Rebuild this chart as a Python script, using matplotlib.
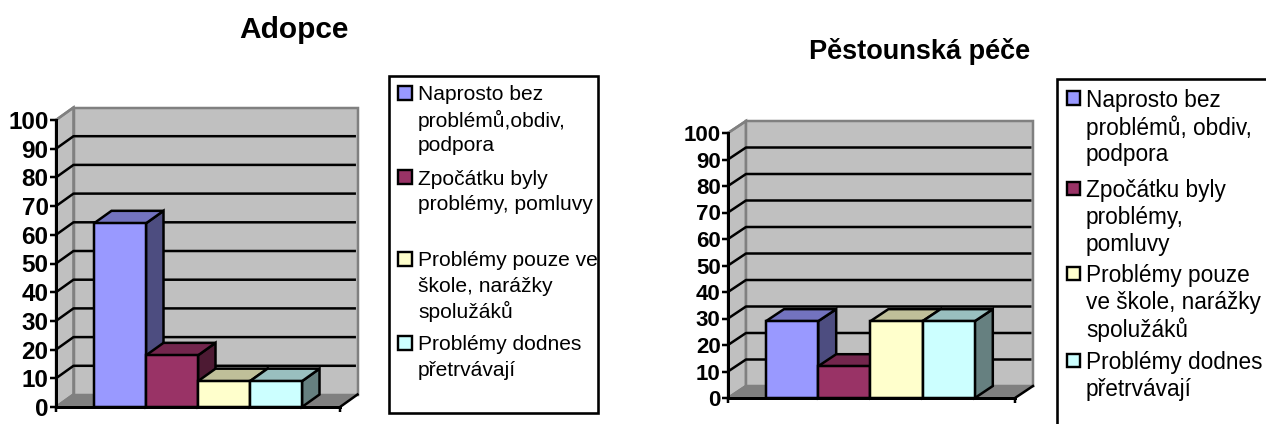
import matplotlib
matplotlib.use("Agg")
import matplotlib.pyplot as plt
from matplotlib.patches import Polygon, Rectangle

W, H = 1266, 424
plt.rcParams['font.family'] = ['Liberation Sans', 'DejaVu Sans']

# ---- data ----
adopce_values = [64, 18, 9, 9]
pestounska_values = [29, 12, 29, 29]
y_ticks = list(range(0, 101, 10))
title_left = "Adopce"
title_right = "Pěstounská péče"
legend_left = ["Naprosto bez\nproblémů,obdiv,\npodpora",
               "Zpočátku byly\nproblémy, pomluvy",
               "Problémy pouze ve\nškole, narážky\nspolužáků",
               "Problémy dodnes\npřetrvávají"]
legend_right = ["Naprosto bez\nproblémů, obdiv,\npodpora",
                "Zpočátku byly\nproblémy,\npomluvy",
                "Problémy pouze\nve škole, narážky\nspolužáků",
                "Problémy dodnes\npřetrvávají"]

front_colors = ["#9999ff", "#993366", "#ffffcc", "#ccffff"]
top_colors = ["#7373bf", "#73264d", "#bfbf99", "#99bfbf"]
side_colors = ["#4d4d80", "#4d1a33", "#808066", "#668080"]

fig = plt.figure(figsize=(W / 100, H / 100), dpi=100)
fig.patch.set_facecolor("white")
PX = 0.72  # points per pixel
LW = 2.5 * PX


def fx(x):
    return x / W


def fy(y):
    return 1 - y / H


def chart(values, left, right, y0, y100, bar_left, bar_w, dpx, dpy, tick_font):
    ax = fig.add_axes([fx(left), fy(y0), (right - left) / W, (y0 - y100) / H])
    ax.patch.set_visible(False)
    xmin = -0.5 - (bar_left - left) / bar_w
    xmax = xmin + (right - left) / bar_w
    ax.set_xlim(xmin, xmax)
    ax.set_ylim(0, 100)
    dx = dpx / bar_w
    dy = dpy / (y0 - y100) * 100

    # walls and floor
    ax.add_patch(Polygon([(xmin, 0), (xmin + dx, dy), (xmin + dx, 100 + dy), (xmin, 100)],
                         fc="#c0c0c0", ec="#808080", lw=2.5 * PX, clip_on=False, zorder=1))
    ax.add_patch(Rectangle((xmin + dx, dy), xmax - xmin, 100, fc="#c0c0c0", ec="#808080",
                           lw=2.5 * PX, clip_on=False, zorder=1))
    ax.add_patch(Polygon([(xmin, 0), (xmin + dx, dy), (xmax + dx, dy), (xmax, 0)],
                         fc="#808080", ec="#808080", lw=1 * PX, clip_on=False, zorder=1.1))

    # gridlines along side wall and back wall
    for t in y_ticks[1:-1]:
        ax.plot([xmin, xmin + dx, xmax + dx - 0.03], [t, t + dy, t + dy], color="black",
                lw=LW, clip_on=False, zorder=1.2, solid_capstyle="butt")
    ax.plot([xmin, xmin + dx], [100, 100 + dy], color="#808080", lw=LW, clip_on=False, zorder=1.2)
    ax.plot([xmin, xmin + dx], [0, dy], color="#808080", lw=LW, clip_on=False, zorder=1.2)
    ax.plot([xmax, xmax + dx], [0, dy], color="black", lw=LW, clip_on=False, zorder=1.3)

    # bars, drawn left to right so each covers its neighbour's side face
    for i, v in enumerate(values):
        z = 2 + i
        l, r = i - 0.5, i + 0.5
        ax.add_patch(Polygon([(r, 0), (r + dx, dy), (r + dx, v + dy), (r, v)], fc=side_colors[i],
                             ec="black", lw=LW, zorder=z, clip_on=False, joinstyle="miter"))
        ax.add_patch(Polygon([(l, v), (l + dx, v + dy), (r + dx, v + dy), (r, v)], fc=top_colors[i],
                             ec="black", lw=LW, zorder=z + .1, clip_on=False, joinstyle="miter"))
        ax.bar(i, v, width=1, color=front_colors[i], edgecolor="black", linewidth=LW,
               zorder=z + .2, clip_on=False)

    for s in ["top", "right"]:
        ax.spines[s].set_visible(False)
    for s in ["left", "bottom"]:
        ax.spines[s].set_linewidth(3 * PX)
        ax.spines[s].set_zorder(10)
    ax.set_yticks(y_ticks)
    ax.set_yticklabels([str(t) for t in y_ticks], fontsize=tick_font, fontweight="bold")
    ax.tick_params(axis="y", length=6 * PX, width=2.5 * PX, pad=1)
    ax.set_xticks([xmin, xmax])
    ax.set_xticklabels([])
    ax.tick_params(axis="x", length=5 * PX, width=2.5 * PX)
    return ax


chart(adopce_values, 56, 340, 407, 120, 94, 52, 17.5, 12.5, 17.5)
chart(pestounska_values, 728, 1015, 398, 133, 766, 52.2, 18, 12, 16)

fig.text(fx(294), fy(38), title_left, fontsize=21.5, fontweight="bold", ha="center", va="baseline")
fig.text(fx(920), fy(59), title_right, fontsize=19.5, fontweight="bold", ha="center", va="baseline")


def legend(entries, box, marker_x, marker_size, marker_ys, text_x, first_ys, step, font):
    x0, y0, x1, y1 = box
    fig.add_artist(Rectangle((fx(x0), fy(y1)), (x1 - x0) / W, (y1 - y0) / H, transform=fig.transFigure,
                             fc="white", ec="black", lw=2.6 * PX, clip_on=False))
    for entry, color, my, ty in zip(entries, front_colors, marker_ys, first_ys):
        fig.add_artist(Rectangle((fx(marker_x), fy(my + marker_size / 2)), marker_size / W, marker_size / H,
                                 transform=fig.transFigure, fc=color, ec="black", lw=2.4 * PX))
        for k, line in enumerate(entry.split("\n")):
            fig.text(fx(text_x), fy(ty + k * step), line, fontsize=font, ha="left", va="center_baseline")


legend(legend_left, (389, 76, 598, 413), 398, 14, [93, 177, 259, 343], 418, [93, 177, 259, 343], 25.2, 15.1)
legend(legend_right, (1057, 79, 1275, 440), 1067, 13, [98, 188, 273, 360], 1086, [98, 188, 273, 360], 27, 16.3)

fig.savefig("out.png", dpi=100, facecolor="white")
